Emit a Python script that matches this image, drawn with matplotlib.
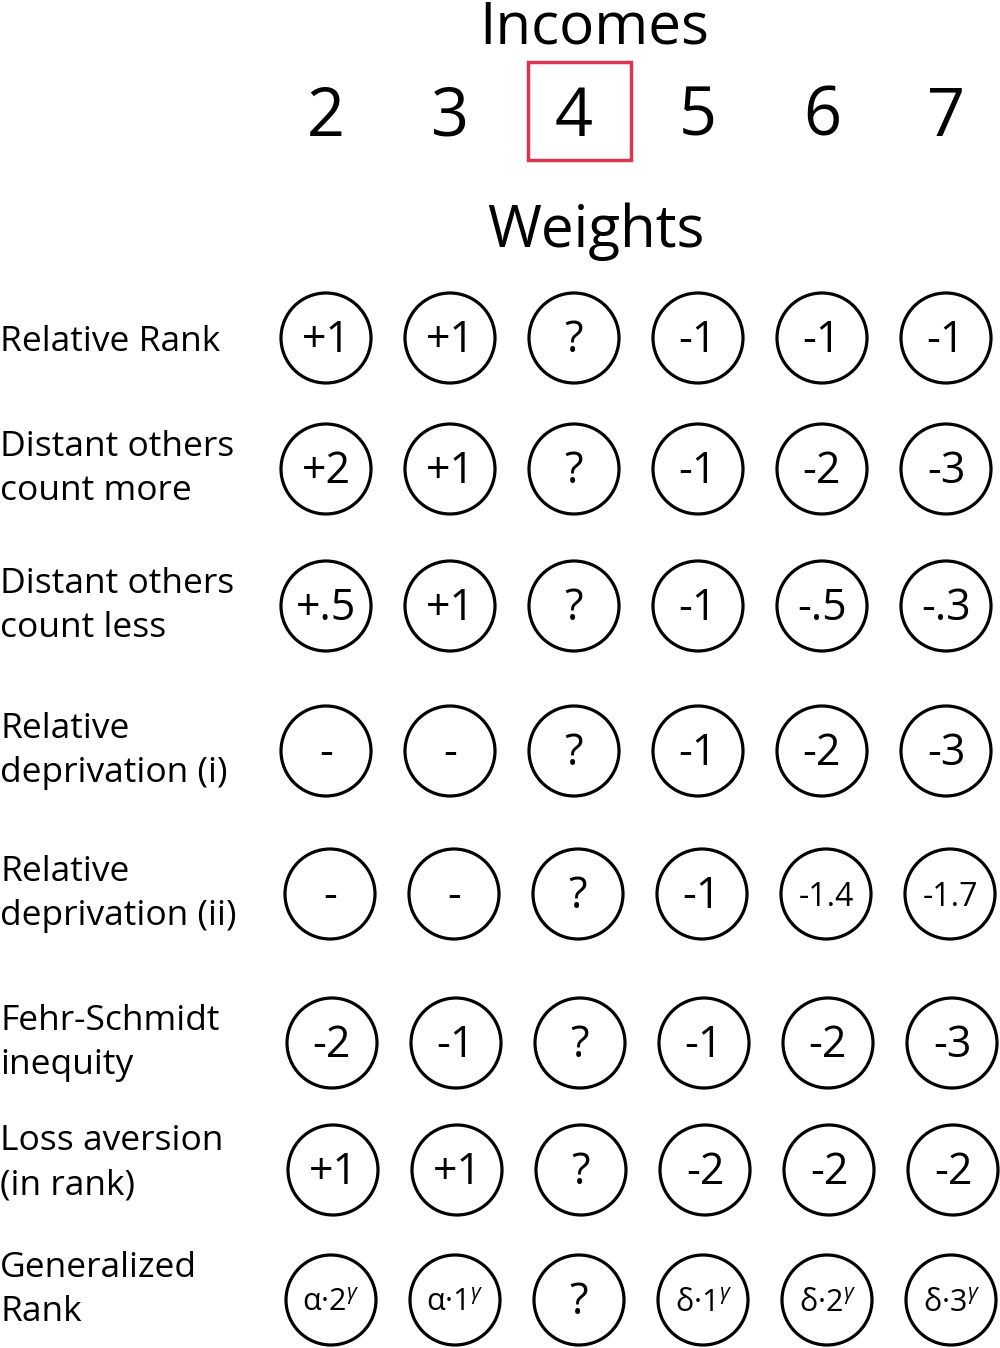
import matplotlib.pyplot as plt
from matplotlib.patches import Circle, Rectangle

plt.rcParams['font.family'] = ['Open Sans', 'DejaVu Sans']
plt.rcParams['mathtext.fontset'] = 'custom'
plt.rcParams['mathtext.rm'] = 'Open Sans'
plt.rcParams['mathtext.it'] = 'Open Sans:italic'

incomes = ['2', '3', '4', '5', '6', '7']
own_income = '4'
row_labels = ['Relative Rank', 'Distant others\ncount more', 'Distant others\ncount less',
              'Relative\ndeprivation (i)', 'Relative\ndeprivation (ii)',
              'Fehr-Schmidt\ninequity', 'Loss aversion\n(in rank)', 'Generalized\nRank']
weights = [
    ['+1', '+1', '?', '-1', '-1', '-1'],
    ['+2', '+1', '?', '-1', '-2', '-3'],
    ['+.5', '+1', '?', '-1', '-.5', '-.3'],
    ['-', '-', '?', '-1', '-2', '-3'],
    ['-', '-', '?', '-1', '-1.4', '-1.7'],
    ['-2', '-1', '?', '-1', '-2', '-3'],
    ['+1', '+1', '?', '-2', '-2', '-2'],
    ['α·2$^{γ}$', 'α·1$^{γ}$', '?', 'δ·1$^{γ}$', 'δ·2$^{γ}$', 'δ·3$^{γ}$'],
]

col_x = [326, 450, 574, 698, 822, 946]
row_y = [338, 469, 606, 751, 894, 1043, 1170, 1300]
row_dx = [0, 0, 0, 0, 4, 6, 7, 5]
label_y = [342, 469, 606, 751, 894, 1043, 1163, 1290]

fig = plt.figure(figsize=(10, 13.48), dpi=100)
ax = fig.add_axes([0, 0, 1, 1])
ax.set_xlim(0, 1000)
ax.set_ylim(1348, 0)
ax.axis('off')

ax.text(594, 28, 'Incomes', fontsize=42, ha='center', va='center')
for x, inc in zip(col_x, incomes):
    ax.text(x, 118, inc, fontsize=48, ha='center', va='center')
    if inc == own_income:
        ax.add_patch(Rectangle((x - 46, 62), 103, 98, fill=False, ec='#dc3550', lw=2.5))
ax.text(596, 232, 'Weights', fontsize=42, ha='center', va='center')

for r, (lab, row) in enumerate(zip(row_labels, weights)):
    ax.text(0, label_y[r], lab, fontsize=25.5, ha='left', va='center', linespacing=1.4)
    for c, w in enumerate(row):
        x = col_x[c] + row_dx[r]
        y = row_y[r]
        ax.add_patch(Circle((x, y), 45, fill=False, ec='black', lw=2.3))
        fs = 31
        if w in ('-1.4', '-1.7'):
            fs = 23
        if '$' in w:
            fs = 22
        ax.text(x, y + 3, w, fontsize=fs, ha='center', va='center')

fig.savefig('out.png', dpi=100)
